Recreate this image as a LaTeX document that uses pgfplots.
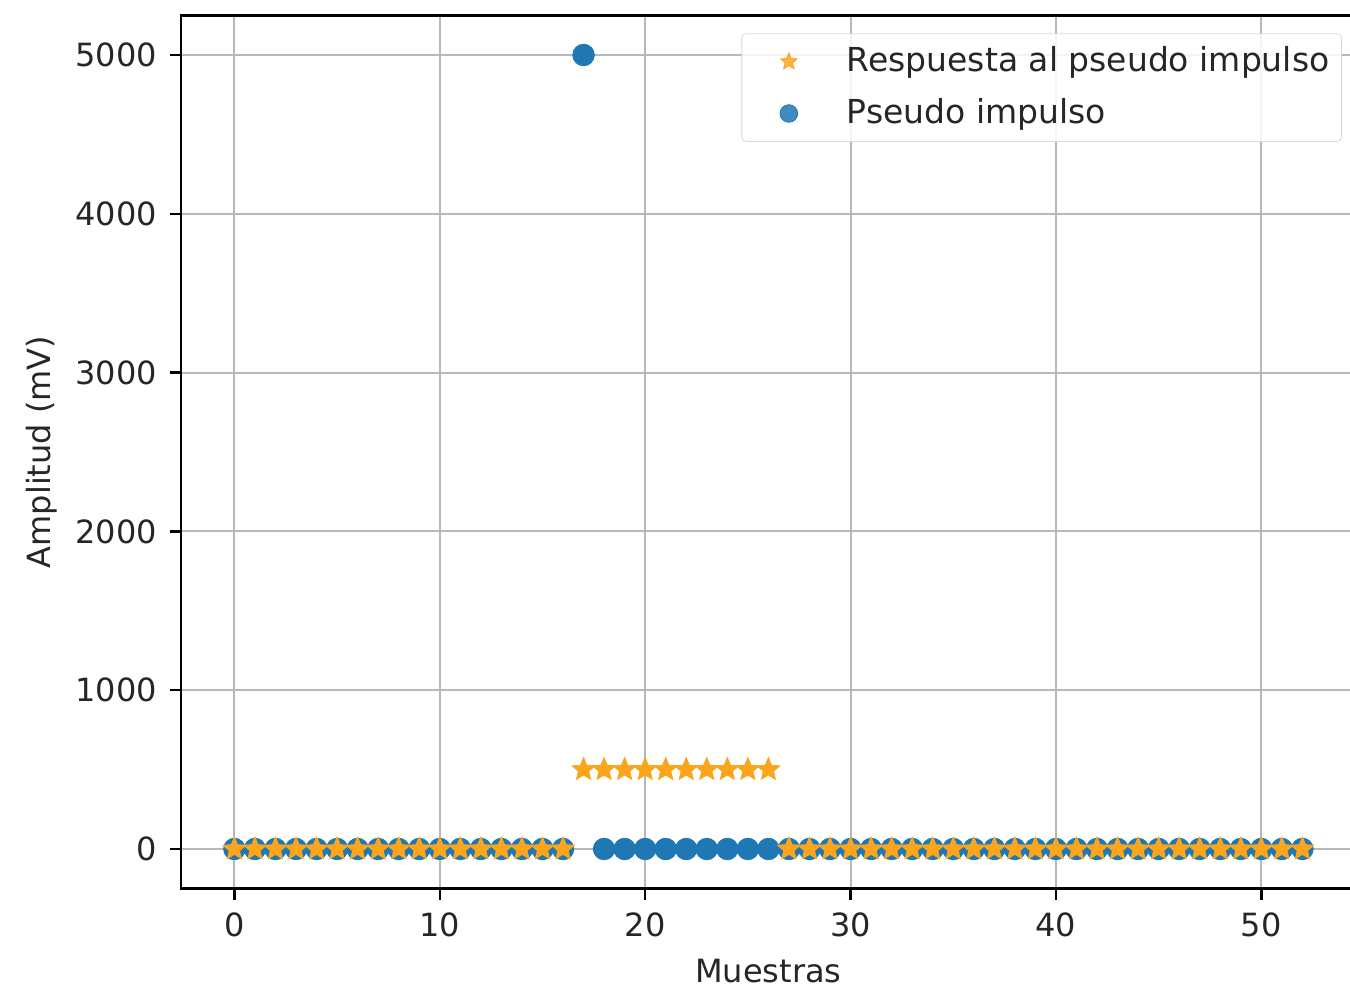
\documentclass[border=0pt]{standalone}
\usepackage{pgfplots}
\pgfplotsset{compat=1.18}
\usepackage{fontspec}
\setmainfont{DejaVu Sans}
\definecolor{mblue}{HTML}{1F77B4}
\definecolor{morange}{HTML}{FBA51C}
\definecolor{mgrid}{HTML}{B8B8B8}
\pgfdeclareplotmark{fstar}{%
  \pgfmathsetmacro\Ro{\pgfplotmarksize}%
  \pgfmathsetmacro\Ri{0.45*\pgfplotmarksize}%
  \pgfpathmoveto{\pgfpointpolar{90}{\Ro pt}}%
  \pgfpathlineto{\pgfpointpolar{126}{\Ri pt}}%
  \pgfpathlineto{\pgfpointpolar{162}{\Ro pt}}%
  \pgfpathlineto{\pgfpointpolar{198}{\Ri pt}}%
  \pgfpathlineto{\pgfpointpolar{234}{\Ro pt}}%
  \pgfpathlineto{\pgfpointpolar{270}{\Ri pt}}%
  \pgfpathlineto{\pgfpointpolar{306}{\Ro pt}}%
  \pgfpathlineto{\pgfpointpolar{342}{\Ri pt}}%
  \pgfpathlineto{\pgfpointpolar{18}{\Ro pt}}%
  \pgfpathlineto{\pgfpointpolar{54}{\Ri pt}}%
  \pgfpathclose
  \pgfusepathqfillstroke}
\begin{document}
\fontsize{16}{19}\selectfont
\begin{tikzpicture}
\path[use as bounding box] (0,0) rectangle (675pt,496pt);
\begin{axis}[
  at={(90.5pt,51.65pt)}, anchor=south west,
  scale only axis, width=587.4pt, height=436.7pt,
  xmin=-2.6, xmax=54.6, ymin=-250, ymax=5250,
  xtick={0,10,20,30,40,50}, ytick={0,1000,2000,3000,4000,5000},
  /pgf/number format/assume math mode=true,
  scaled y ticks=false,
  yticklabel style={/pgf/number format/1000 sep={}},
  tick pos=left, tick align=outside,
  major tick length=5.5pt,
  every tick/.style={black, line width=1.2pt},
  axis line style={black, line width=1.3pt},
  grid=major, major grid style={mgrid, line width=1pt},
  axis on top,
  ticklabel style={font=\fontsize{16}{19}\selectfont, text=black!85},
  xticklabel style={yshift=-1pt},
  yticklabel style={xshift=-1pt},
  label style={font=\fontsize{16}{19}\selectfont, text=black!85},
  xlabel={Muestras}, ylabel={Amplitud (mV)},
  xlabel style={yshift=0pt},
  ylabel style={yshift=-1.5pt},
  reverse legend,
  legend image code/.code={\path[draw=none,fill=none] (-19.5pt,0pt) -- (27pt,0pt); \draw[#1, mark size=4.4pt] plot coordinates {(0pt,0pt)};},
  legend style={at={(1,1)}, anchor=north east, xshift=-7pt, yshift=-9pt,
    draw=black!15, rounded corners=2pt, fill=white, fill opacity=0.85, text opacity=1,
    font=\fontsize{16.5}{19}\selectfont, text=black!85,
    row sep=7pt, inner xsep=4pt, inner ysep=4.5pt},
  legend cell align=left,
]
\addplot[only marks, mark=*, mark size=5.4pt, mblue, mark options={draw=mblue, fill=mblue}] coordinates {
(0,0)(1,0)(2,0)(3,0)(4,0)(5,0)(6,0)(7,0)(8,0)(9,0)(10,0)(11,0)(12,0)(13,0)(14,0)(15,0)(16,0)
(17,5000)(18,0)(19,0)(20,0)(21,0)(22,0)(23,0)(24,0)(25,0)(26,0)
(27,0)(28,0)(29,0)(30,0)(31,0)(32,0)(33,0)(34,0)(35,0)(36,0)(37,0)(38,0)(39,0)
(40,0)(41,0)(42,0)(43,0)(44,0)(45,0)(46,0)(47,0)(48,0)(49,0)(50,0)(51,0)(52,0)};
\addlegendentry{Pseudo impulso}
\addplot[only marks, mark=fstar, mark size=6pt, morange, mark options={draw=morange, fill=morange, line width=0.4pt}] coordinates {
(0,0)(1,0)(2,0)(3,0)(4,0)(5,0)(6,0)(7,0)(8,0)(9,0)(10,0)(11,0)(12,0)(13,0)(14,0)(15,0)(16,0)
(17,500)(18,500)(19,500)(20,500)(21,500)(22,500)(23,500)(24,500)(25,500)(26,500)
(27,0)(28,0)(29,0)(30,0)(31,0)(32,0)(33,0)(34,0)(35,0)(36,0)(37,0)(38,0)(39,0)
(40,0)(41,0)(42,0)(43,0)(44,0)(45,0)(46,0)(47,0)(48,0)(49,0)(50,0)(51,0)(52,0)};
\addlegendentry{Respuesta al pseudo impulso}
\end{axis}
\end{tikzpicture}
\end{document}
